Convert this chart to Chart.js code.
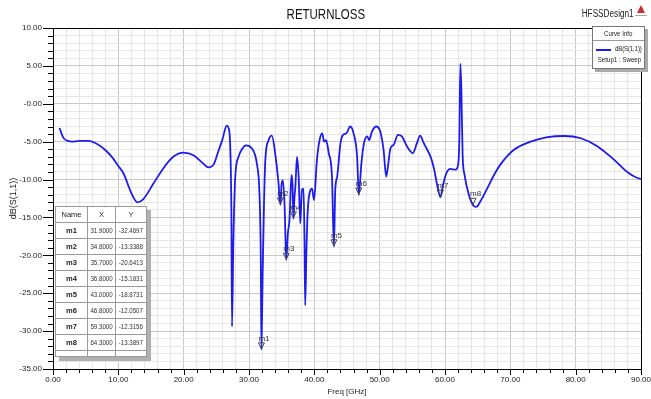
<!DOCTYPE html>
<html>
<head>
<meta charset="utf-8">
<script src="https://cdn.jsdelivr.net/npm/chart.js@4.4.1/dist/chart.umd.min.js"></script>
<style>
  html,body{margin:0;padding:0;background:#fff;}
  #wrap{position:relative;width:651px;height:399px;overflow:hidden;font-family:'Liberation Sans',Arial,sans-serif;}
  canvas{position:absolute;left:0;top:0;}
  .nar{display:inline-block;transform:scaleX(0.82);transform-origin:center center;white-space:nowrap;}
  .title{position:absolute;left:0;width:651px;top:6px;text-align:center;font-size:14px;color:#111;}
  .design{position:absolute;left:576px;top:8px;width:58px;text-align:center;font-size:10px;color:#222;}
  .logo{position:absolute;left:637px;top:5px;width:0;height:0;border-left:4px solid transparent;border-right:4px solid transparent;border-bottom:8px solid #c83030;}
  .logo2{position:absolute;left:635px;top:15px;width:12px;height:1px;background:#aaa;}
  #legend{position:absolute;left:592px;top:26px;width:51px;height:41px;background:#fff;border:1px solid #777;box-shadow:3px 3px 0 #aaa;font-size:7.5px;color:#222;}
  #legend .hd{text-align:center;height:13px;line-height:13px;border-bottom:1px solid #999;}
  #legend .row{position:relative;height:12px;line-height:12px;margin-top:2px;}
  #legend .ln{position:absolute;left:3px;top:6px;width:15px;height:2px;background:#1c1cf0;}
  #legend .nm{position:absolute;left:19px;top:0;width:32px;text-align:center;text-decoration:underline;letter-spacing:-0.2px;}
  #legend .st{text-align:center;text-decoration:underline;white-space:nowrap;}
  #mtab{position:absolute;left:55px;top:206px;border-collapse:collapse;background:#fff;box-shadow:4px 4px 0 #b0b0b0;border:1px solid #555;font-size:7.5px;color:#333;table-layout:fixed;}
  #mtab td{border:1px solid #9a9a9a;height:15px;padding:0;text-align:center;overflow:hidden;white-space:nowrap;}
  #mtab td.n{width:31px;color:#222;font-weight:bold;}
  #mtab td.x{width:25px;}
  #mtab td.y{width:29px;}
  #mtab tr.e td{height:5px;}
</style>
</head>
<body>
<div id="wrap">
  <canvas id="c" width="651" height="399"></canvas>
  <div class="title"><span class="nar">RETURNLOSS</span></div>
  <div class="design"><span class="nar">HFSSDesign1</span></div>
  <div class="logo"></div><div class="logo2"></div>
  <div id="legend">
    <div class="hd"><span class="nar">Curve Info</span></div>
    <div class="row"><div class="ln"></div><div class="nm"><span class="nar" id="serName"></span></div></div>
    <div class="st"><span class="nar" id="setupName"></span></div>
  </div>
  <table id="mtab"></table>
</div>
<script>
// ---- data ----
const seriesName = 'dB(S(1,1))';
const setupName = 'Setup1 : Sweep';
const freq = [1.0,1.6,2.3,2.9,4.0,5.4,6.95,8.0,9.0,10.0,10.8,12.0,12.9,13.8,15.4,16.9,18.4,20.0,21.5,23.0,23.8,24.6,25.3,25.9,26.6,27.0,27.2,27.3,27.4,27.6,27.9,28.4,29.0,29.5,30.45,31.2,31.6,31.8,31.9,32.1,32.3,32.5,33.0,33.5,34.0,34.5,34.8,35.0,35.2,35.45,35.7,35.95,36.2,36.5,36.65,36.8,36.95,37.1,37.35,37.6,37.85,38.1,38.35,38.5,38.6,38.8,39.0,39.4,39.65,39.95,40.4,40.8,41.2,41.5,41.8,42.2,42.7,43.0,43.2,43.5,44.0,44.4,44.9,45.5,46.0,46.55,46.8,47.2,47.6,48.1,48.4,48.8,49.5,50.1,50.6,51.0,51.2,51.65,52.15,52.8,53.4,54.2,55.1,55.7,56.2,56.75,57.3,57.8,58.3,58.8,59.3,59.7,60.2,60.8,61.6,62.0,62.2,62.35,62.5,62.7,63.0,63.65,64.3,64.8,65.4,66.5,67.5,68.5,70.5,73.1,75.7,78.2,80.8,83.3,85.9,87.9,89.45,90.0];
const s11 = [-3.2,-4.5,-4.9,-5.0,-4.9,-4.9,-5.4,-6.1,-7.0,-8.2,-9.2,-11.8,-13.0,-12.6,-10.5,-8.5,-7.0,-6.45,-6.8,-7.9,-8.4,-8.0,-6.3,-4.8,-2.9,-3.7,-8.0,-14.0,-29.4,-18.4,-9.6,-7.0,-5.9,-5.5,-5.9,-7.9,-11.8,-20.0,-32.47,-22.0,-13.0,-7.4,-4.8,-4.2,-6.5,-10.3,-13.34,-10.5,-10.1,-13.5,-20.64,-17.1,-15.3,-9.4,-10.5,-15.18,-12.5,-10.9,-7.0,-9.6,-15.8,-11.4,-11.2,-18.4,-26.6,-19.0,-14.0,-11.4,-11.2,-12.7,-7.4,-4.8,-3.9,-5.0,-4.8,-6.5,-9.6,-18.87,-11.4,-9.6,-5.2,-4.1,-3.9,-3.0,-3.9,-7.0,-12.05,-7.9,-5.2,-4.3,-4.8,-3.7,-3.0,-3.7,-6.1,-9.6,-8.7,-5.9,-5.4,-4.1,-4.3,-5.65,-6.5,-5.2,-4.2,-5.2,-6.1,-7.0,-8.5,-10.7,-12.32,-10.7,-9.2,-8.6,-8.7,-8.1,-4.5,5.3,2.0,-6.8,-9.4,-12.0,-13.39,-13.6,-12.9,-11.1,-9.4,-8.0,-6.1,-5.0,-4.4,-4.25,-4.55,-5.6,-7.4,-9.0,-9.8,-9.9];
const markerNames = ['m1','m2','m3','m4','m5','m6','m7','m8'];
const markerX = [31.9, 34.8, 35.7, 36.8, 43.0, 46.8, 59.3, 64.3];
const markerY = [-32.4697, -13.3388, -20.6413, -15.1831, -18.8731, -12.0507, -12.3156, -13.3897];
const xTickLabels = ['0.00','10.00','20.00','30.00','40.00','50.00','60.00','70.00','80.00','90.00'];
const yTickLabels = ['10.00','5.00','-0.00','-5.00','-10.00','-15.00','-20.00','-25.00','-30.00','-35.00'];

// ---- legend + marker table text ----
document.getElementById('serName').textContent = seriesName;
document.getElementById('setupName').textContent = setupName;
(function(){
  const t = document.getElementById('mtab');
  let h = '<tr><td class="n" style="font-weight:normal">Name</td><td class="x">X</td><td class="y">Y</td></tr>';
  markerNames.forEach((n,i)=>{
    h += '<tr><td class="n">'+n+'</td><td class="x"><span class="nar">'+markerX[i].toFixed(4)+'</span></td><td class="y"><span class="nar">'+markerY[i].toFixed(4)+'</span></td></tr>';
  });
  h += '<tr class="e"><td></td><td></td><td></td></tr>';
  t.innerHTML = h;
})();

const FONT = "'Liberation Sans',Arial,sans-serif";

const frame = {
  id:'frame',
  afterDraw(chart){
    const {ctx, chartArea:a, scales:{x,y}} = chart;
    ctx.save();
    ctx.strokeStyle = '#000';
    ctx.lineWidth = 1;
    ctx.strokeRect(Math.round(a.left)+0.5, Math.round(a.top)+0.5, Math.round(a.right-a.left), Math.round(a.bottom-a.top));
    ctx.beginPath();
    for(let v=-35; v<=10; v++){
      const py = Math.round(y.getPixelForValue(v))+0.5;
      const len = (v%5===0)?10:5;
      ctx.moveTo(a.left-len, py); ctx.lineTo(a.left, py);
    }
    for(let v=0; v<=90; v+=2){
      const px = Math.round(x.getPixelForValue(v))+0.5;
      const len = (v%10===0)?6:4;
      ctx.moveTo(px, a.bottom); ctx.lineTo(px, a.bottom+len);
    }
    ctx.stroke();
    ctx.font = '8px '+FONT;
    ctx.fillStyle = '#333';
    ctx.strokeStyle = '#444';
    markerNames.forEach((n,i)=>{
      const px = x.getPixelForValue(markerX[i]);
      const py = y.getPixelForValue(markerY[i]);
      ctx.beginPath();
      ctx.moveTo(px-3, py-7); ctx.lineTo(px+3, py-7); ctx.lineTo(px, py-1); ctx.closePath();
      ctx.stroke();
      ctx.fillText(n, px-3, py-9);
    });
    ctx.restore();
  }
};

new Chart(document.getElementById('c'), {
  type:'line',
  data:{
    datasets:[{
      label: seriesName,
      data: freq.map((f,i)=>({x:f, y:s11[i]})),
      borderColor:'#1c1cf0',
      borderWidth:1.8,
      pointRadius:0,
      cubicInterpolationMode:'monotone',
      fill:false
    }]
  },
  options:{
    responsive:false,
    animation:false,
    layout:{padding:{top:28,right:10,left:0,bottom:0}},
    plugins:{legend:{display:false},title:{display:false},tooltip:{enabled:false}},
    scales:{
      x:{
        type:'linear', min:0, max:90,
        ticks:{stepSize:2, autoSkip:false, maxRotation:0, padding:6, color:'#222',
          font:{family:FONT,size:8},
          callback:(v)=> (v%10===0)? xTickLabels[v/10] : ''},
        grid:{drawTicks:false, color:(c)=> (c.tick && c.tick.value%10===0)?'#c8c8c8':'#e6e6e6', lineWidth:1},
        border:{display:true,color:'#000'},
        title:{display:true,text:'Freq [GHz]',color:'#222',font:{family:FONT,size:8},padding:{top:0,bottom:2}},
        afterFit:(s)=>{s.height=30; s.paddingLeft=0; s.paddingRight=0;}
      },
      y:{
        type:'linear', min:-35, max:10,
        ticks:{stepSize:1, autoSkip:false, padding:11, color:'#222',
          font:{family:FONT,size:8},
          callback:(v)=> (v%5===0)? yTickLabels[(10-v)/5] : ''},
        grid:{drawTicks:false, color:(c)=> (c.tick && c.tick.value%5===0)?'#c8c8c8':'#e6e6e6', lineWidth:1},
        border:{display:true,color:'#000'},
        title:{display:true,text:'dB(S(1,1))',color:'#222',font:{family:FONT,size:9},padding:{top:8,bottom:0}},
        afterFit:(s)=>{s.width=53; s.paddingTop=0; s.paddingBottom=0;}
      }
    }
  },
  plugins:[frame]
});
</script>
</body>
</html>
